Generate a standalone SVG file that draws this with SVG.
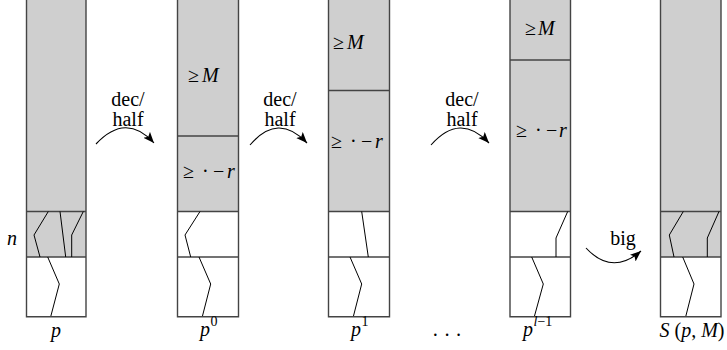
<svg xmlns="http://www.w3.org/2000/svg" width="727" height="350" viewBox="0 0 727 350" font-family="'Liberation Serif', 'Times New Roman', serif" font-size="20">
<style>
.t{font-family:'Liberation Serif','Times New Roman',serif;font-size:20px;fill:#000}
.i{font-style:italic}
.g{fill:#cfcfcf}
.w{fill:#fff}
.b{fill:none;stroke:#444;stroke-width:1.4}
.h{stroke:#444;stroke-width:1.4}
.ln{fill:none;stroke:#000;stroke-width:1}
.arc{fill:none;stroke:#000;stroke-width:1.1}
</style>
<defs>
<marker id="ah" markerWidth="13" markerHeight="10" refX="11" refY="4.5" orient="auto" markerUnits="userSpaceOnUse">
<path d="M0,0 L11,4.5 L0,9 L2.5,4.5 Z" fill="#000"/>
</marker>
</defs>
<g id="col-p">
<rect class="g" x="26.5" y="0" width="59.5" height="257"/>
<rect class="w" x="26.5" y="257" width="59.5" height="59.7"/>
<line class="h" x1="26.5" y1="211.5" x2="86" y2="211.5"/>
<line class="h" x1="26.5" y1="257" x2="86" y2="257"/>
<polyline class="ln" points="48.3,211.5 34,235 40,257"/>
<polyline class="ln" points="60,211.5 65.7,257"/>
<polyline class="ln" points="83.3,211.5 71.7,235 71.7,257"/>
<polyline class="ln" points="47.7,257 59.3,284 50.7,316.7"/>
<path class="b" d="M26.5,0 V316.7 H86 V0"/>
<text class="t i" x="12" y="245" text-anchor="middle">n</text>
<text class="t i" x="56" y="337" text-anchor="middle">p</text>
</g>
<g id="col-p0">
<rect class="g" x="177.5" y="0" width="61" height="211.5"/>
<rect class="w" x="177.5" y="211.5" width="61" height="105.2"/>
<line class="h" x1="177.5" y1="136" x2="238.5" y2="136"/>
<line class="h" x1="177.5" y1="211.5" x2="238.5" y2="211.5"/>
<line class="h" x1="177.5" y1="257" x2="238.5" y2="257"/>
<polyline class="ln" points="200,211.5 185,235 190.7,257"/>
<polyline class="ln" points="199,257 210.7,284 202.3,316.7"/>
<path class="b" d="M177.5,0 V316.7 H238.5 V0"/>
<text class="t" x="188" y="82">≥<tspan class="i" x="202">M</tspan></text>
<text class="t" x="183" y="178">≥<tspan x="202">·</tspan><tspan x="213">−</tspan><tspan class="i" x="227">r</tspan></text>
<text class="t i" x="200" y="336">p</text>
<text class="t" x="210.5" y="326" style="font-size:14px">0</text>
</g>
<g id="col-p1">
<rect class="g" x="328.5" y="0" width="61" height="211.5"/>
<rect class="w" x="328.5" y="211.5" width="61" height="105.2"/>
<line class="h" x1="328.5" y1="90.5" x2="389.5" y2="90.5"/>
<line class="h" x1="328.5" y1="211.5" x2="389.5" y2="211.5"/>
<line class="h" x1="328.5" y1="257" x2="389.5" y2="257"/>
<polyline class="ln" points="361.7,211.5 368.3,257"/>
<polyline class="ln" points="350,257 361.7,284 353.3,316.7"/>
<path class="b" d="M328.5,0 V316.7 H389.5 V0"/>
<text class="t" x="333" y="49">≥<tspan class="i" x="347">M</tspan></text>
<text class="t" x="331" y="148">≥<tspan x="350">·</tspan><tspan x="361">−</tspan><tspan class="i" x="375">r</tspan></text>
<text class="t i" x="351" y="336">p</text>
<text class="t" x="361.5" y="326" style="font-size:14px">1</text>
</g>
<text class="t" x="447" y="342" text-anchor="middle">· · ·</text>
<g id="col-pl1">
<rect class="g" x="510" y="0" width="60.5" height="211.5"/>
<rect class="w" x="510" y="211.5" width="60.5" height="105.2"/>
<line class="h" x1="510" y1="60" x2="570.5" y2="60"/>
<line class="h" x1="510" y1="211.5" x2="570.5" y2="211.5"/>
<line class="h" x1="510" y1="257" x2="570.5" y2="257"/>
<polyline class="ln" points="567.7,211.5 556,238 556,257"/>
<polyline class="ln" points="531.7,257 543.3,284 534.3,316.7"/>
<path class="b" d="M510,0 V316.7 H570.5 V0"/>
<text class="t" x="525" y="35">≥<tspan class="i" x="538">M</tspan></text>
<text class="t" x="516" y="137">≥<tspan x="535">·</tspan><tspan x="546">−</tspan><tspan class="i" x="559">r</tspan></text>
<text class="t i" x="523" y="336">p</text>
<text class="t" x="533.5" y="326" style="font-size:14px"><tspan class="i">l</tspan>−1</text>
</g>
<g id="col-S">
<rect class="g" x="660.5" y="0" width="60.5" height="257"/>
<rect class="w" x="660.5" y="257" width="60.5" height="59.7"/>
<line class="h" x1="660.5" y1="211.5" x2="721" y2="211.5"/>
<line class="h" x1="660.5" y1="257" x2="721" y2="257"/>
<polyline class="ln" points="683.3,211.5 669.3,235 674,257"/>
<polyline class="ln" points="719,211.5 707.3,238 707.3,257"/>
<polyline class="ln" points="682.7,257 694,284 685.7,316.7"/>
<path class="b" d="M660.5,0 V316.7 H721 V0"/>
<text class="t" x="692" y="337" text-anchor="middle"><tspan class="i">S</tspan> (<tspan class="i">p</tspan>, <tspan class="i">M</tspan>)</text>
</g>
<g id="connectors">
<path class="arc" d="M96,144 Q126,112 154,143" marker-end="url(#ah)"/>
<path class="arc" d="M250,145 Q278,112 307,143" marker-end="url(#ah)"/>
<path class="arc" d="M431,145 Q460,112 489,143" marker-end="url(#ah)"/>
<path class="arc" d="M586,248 Q612,276 641,251" marker-end="url(#ah)"/>
<text class="t" x="128" y="106" text-anchor="middle">dec/</text>
<text class="t" x="128" y="126" text-anchor="middle">half</text>
<text class="t" x="280" y="106" text-anchor="middle">dec/</text>
<text class="t" x="280" y="126" text-anchor="middle">half</text>
<text class="t" x="462" y="106" text-anchor="middle">dec/</text>
<text class="t" x="462" y="126" text-anchor="middle">half</text>
<text class="t" x="623" y="245" text-anchor="middle">big</text>
</g>
</svg>
